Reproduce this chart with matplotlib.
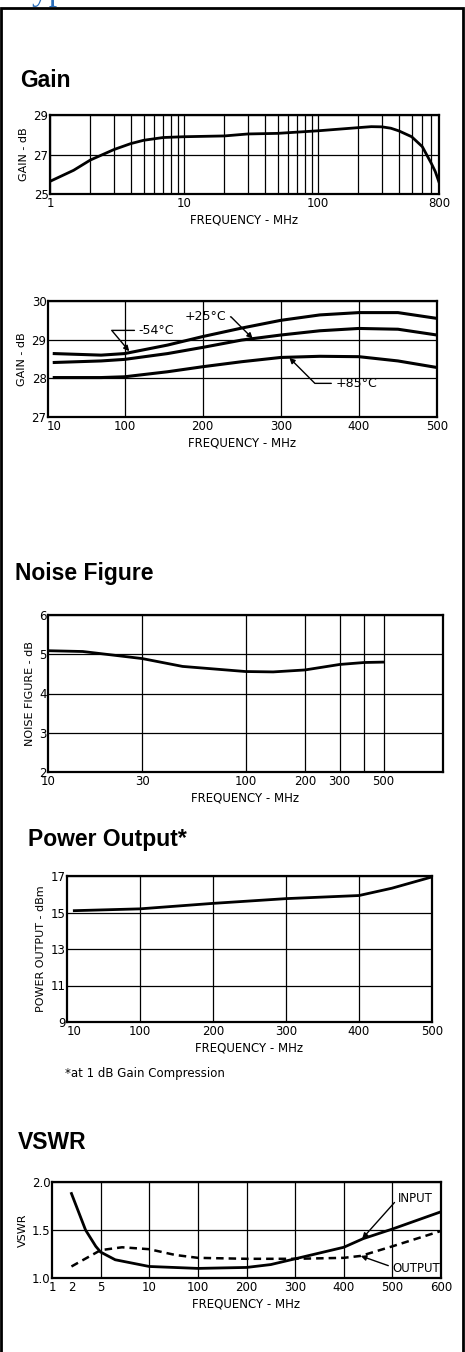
import numpy as np
import matplotlib.pyplot as plt
from matplotlib.ticker import LogLocator, FixedLocator, NullFormatter
from matplotlib.patches import Rectangle

W, H = 465, 1352
NARROW = ['Liberation Sans Narrow', 'DejaVu Sans']
BOLD = ['Liberation Sans', 'DejaVu Sans']

# --- data ---
gain_f = [1, 1.5, 2, 3, 4, 5, 7, 10, 20, 30, 50, 100, 200, 250, 300, 350, 400, 500, 600, 700, 750, 800]
gain_db = [25.64, 26.2, 26.72, 27.25, 27.55, 27.72, 27.86, 27.9, 27.94, 28.04, 28.07, 28.2, 28.36,
           28.41, 28.4, 28.33, 28.2, 27.9, 27.4, 26.56, 26.14, 25.6]
gain_xt = [1, 10, 100, 800]

temp_f = [10, 70, 100, 155, 200, 250, 300, 350, 400, 450, 500]
gain_m54 = [28.64, 28.6, 28.64, 28.86, 29.08, 29.3, 29.5, 29.64, 29.7, 29.7, 29.55]
gain_p25 = [28.41, 28.45, 28.49, 28.64, 28.8, 28.99, 29.12, 29.23, 29.29, 29.27, 29.12]
gain_p85 = [28.02, 28.02, 28.04, 28.17, 28.3, 28.43, 28.54, 28.57, 28.56, 28.45, 28.28]
temp_xt = [10, 100, 200, 300, 400, 500]
temp_grid = [100, 200, 300, 400]

nf_f = [10, 15, 30, 48, 100, 138, 200, 300, 400, 500]
nf_db = [5.09, 5.07, 4.89, 4.69, 4.56, 4.55, 4.6, 4.74, 4.79, 4.8]
nf_xt = [10, 30, 100, 200, 300, 500]
nf_grid = [30, 100, 200, 300, 400, 500]

po_f = [10, 100, 200, 300, 400, 445, 500]
po_dbm = [15.1, 15.2, 15.5, 15.76, 15.93, 16.33, 16.95]
po_xt = [10, 100, 200, 300, 400, 500]
po_grid = [100, 200, 300, 400]

vin_f = [2, 3.45, 4.5, 5, 6.5, 10, 100, 200, 250, 300, 400, 440, 500, 600]
vin = [1.88, 1.5, 1.33, 1.27, 1.19, 1.12, 1.1, 1.11, 1.14, 1.2, 1.32, 1.41, 1.51, 1.69]
vout_f = [2, 5, 7.2, 10, 58, 100, 200, 300, 400, 435, 500, 600]
vout = [1.12, 1.29, 1.32, 1.3, 1.24, 1.21, 1.2, 1.2, 1.21, 1.23, 1.33, 1.49]
vswr_xt = [1, 2, 5, 10, 100, 200, 300, 400, 500, 600]
vswr_pos = [0, 0.4, 1, 2, 3, 4, 5, 6, 7, 8]
vswr_grid = [5, 10, 100, 200, 300, 400, 500]


def box(l, t, r, b):
    return [l / W, 1 - b / H, (r - l) / W, (b - t) / H]


def style(ax, xt, xgrid, yt, ylabels, ylab):
    for s in ax.spines.values():
        s.set_linewidth(1.6)
    ax.xaxis.remove_overlapping_locs = False
    ax.set_xticks(xt)
    ax.set_xticklabels([str(v) for v in xt], family=NARROW, fontsize=8.5)
    ax.xaxis.set_minor_locator(xgrid)
    ax.xaxis.set_minor_formatter(NullFormatter())
    ax.set_yticks(yt)
    ax.set_yticklabels(ylabels, family=NARROW, fontsize=8.5)
    ax.tick_params(which='both', length=0, pad=2)
    ax.tick_params(axis='y', pad=1)
    ax.grid(True, which='minor', axis='x', color='black', lw=0.9)
    ax.grid(True, which='major', axis='y', color='black', lw=0.9)
    ax.set_axisbelow(True)
    ax.set_ylabel(ylab, family=NARROW, fontsize=8, labelpad=3)
    ax.set_xlabel('FREQUENCY - MHz', family=NARROW, fontsize=8.5, labelpad=3)


fig = plt.figure(figsize=(W / 100, H / 100), dpi=100)

# page heading, cut off by the top edge as in the scan
fig.text(14 / W, 1.0, 'Typical Performance Curves', color='#2a6ebb',
         fontsize=24, family=['Liberation Serif', 'DejaVu Serif'], va='baseline')
fig.add_artist(Rectangle((1.3 / W, -0.01), (463 - 1.3) / W, 1 - 8 / H + 0.01,
                         transform=fig.transFigure, fill=False, lw=2, ec='black'))

for txt, x, y in [('Gain', 20, 87), ('Noise Figure', 15, 580),
                  ('Power Output*', 28, 846), ('VSWR', 18, 1149)]:
    fig.text(x / W, 1 - y / H, txt, fontsize=16.5, fontweight='bold', family=BOLD,
             va='baseline')

# Gain, log frequency
ax1 = fig.add_axes(box(50, 115, 439, 194))
ax1.set_xscale('log')
ax1.plot(gain_f, gain_db, color='black', lw=2)
ax1.set_xlim(1, 800)
ax1.set_ylim(25, 29)
style(ax1, gain_xt, LogLocator(base=10, subs=np.arange(1, 10)), [25, 27, 29],
      ['25', '27', '29'], 'GAIN - dB')

# Gain vs temperature
ax2 = fig.add_axes(box(48, 301, 437, 417))
for g in (gain_m54, gain_p25, gain_p85):
    ax2.plot(temp_f, g, color='black', lw=2.2)
ax2.set_xlim(2, 500)
ax2.set_ylim(27, 30)
style(ax2, temp_xt, FixedLocator(temp_grid), [27, 28, 29, 30],
      ['27', '28', '29', '30'], 'GAIN - dB')
arr = dict(arrowstyle='-|>', color='black', lw=1, mutation_scale=8, shrinkA=1, shrinkB=0)
ax2.annotate('+25°C', xy=(264, 29.03), xytext=(177, 29.59), ha='left', va='center',
             family=NARROW, fontsize=9,
             arrowprops=dict(arr, relpos=(1, 0.5), connectionstyle='angle,angleA=0,angleB=-45,rad=0'))
ax2.annotate('-54°C', xy=(106, 28.7), xytext=(118, 29.24), ha='left', va='center',
             family=NARROW, fontsize=9,
             arrowprops=dict(arr, relpos=(0, 0.5), connectionstyle='angle,angleA=180,angleB=-50,rad=0'))
ax2.annotate('+85°C', xy=(311, 28.53), xytext=(370, 27.87), ha='left', va='center',
             family=NARROW, fontsize=9,
             arrowprops=dict(arr, relpos=(0, 0.5), connectionstyle='angle,angleA=180,angleB=-45,rad=0'))

# Noise figure
ax3 = fig.add_axes(box(48, 615, 443, 772))
ax3.set_xscale('log')
ax3.plot(nf_f, nf_db, color='black', lw=2)
ax3.set_xlim(10, 1000)
ax3.set_ylim(2, 6)
style(ax3, nf_xt, FixedLocator(nf_grid), [2, 3, 4, 5, 6],
      ['2', '3', '4', '5', '6'], 'NOISE FIGURE - dB')

# Power output
ax4 = fig.add_axes(box(67, 876, 432, 1022))
ax4.plot(po_f, po_dbm, color='black', lw=2)
ax4.set_xlim(0, 500)
ax4.set_ylim(9, 17)
style(ax4, po_xt, FixedLocator(po_grid), [9, 11, 13, 15, 17],
      ['9', '11', '13', '15', '17'], 'POWER OUTPUT - dBm')
fig.text(65 / W, 1 - 1077 / H, '*at 1 dB Gain Compression', family=NARROW,
         fontsize=8.5, va='baseline')

# VSWR, compressed frequency axis
ax5 = fig.add_axes(box(52, 1182, 441, 1278))
ax5.set_xscale('function', functions=(lambda f: np.interp(f, vswr_xt, vswr_pos),
                                      lambda p: np.interp(p, vswr_pos, vswr_xt)))
ax5.plot(vin_f, vin, color='black', lw=2)
ax5.plot(vout_f, vout, color='black', lw=1.8, ls=(0, (3, 2)))
ax5.set_xlim(1, 600)
ax5.set_ylim(1.0, 2.0)
style(ax5, vswr_xt, FixedLocator(vswr_grid), [1.0, 1.5, 2.0],
      ['1.0', '1.5', '2.0'], 'VSWR')
ax5.annotate('INPUT', xy=(438, 1.41), xytext=(512, 1.83), ha='left', va='center',
             family=NARROW, fontsize=8.5, arrowprops=dict(arr, relpos=(0, 0.5)))
ax5.annotate('OUTPUT', xy=(435, 1.23), xytext=(500, 1.1), ha='left', va='center',
             family=NARROW, fontsize=8.5, arrowprops=dict(arr, relpos=(0, 0.6)))

fig.savefig('out.png', dpi=100)
